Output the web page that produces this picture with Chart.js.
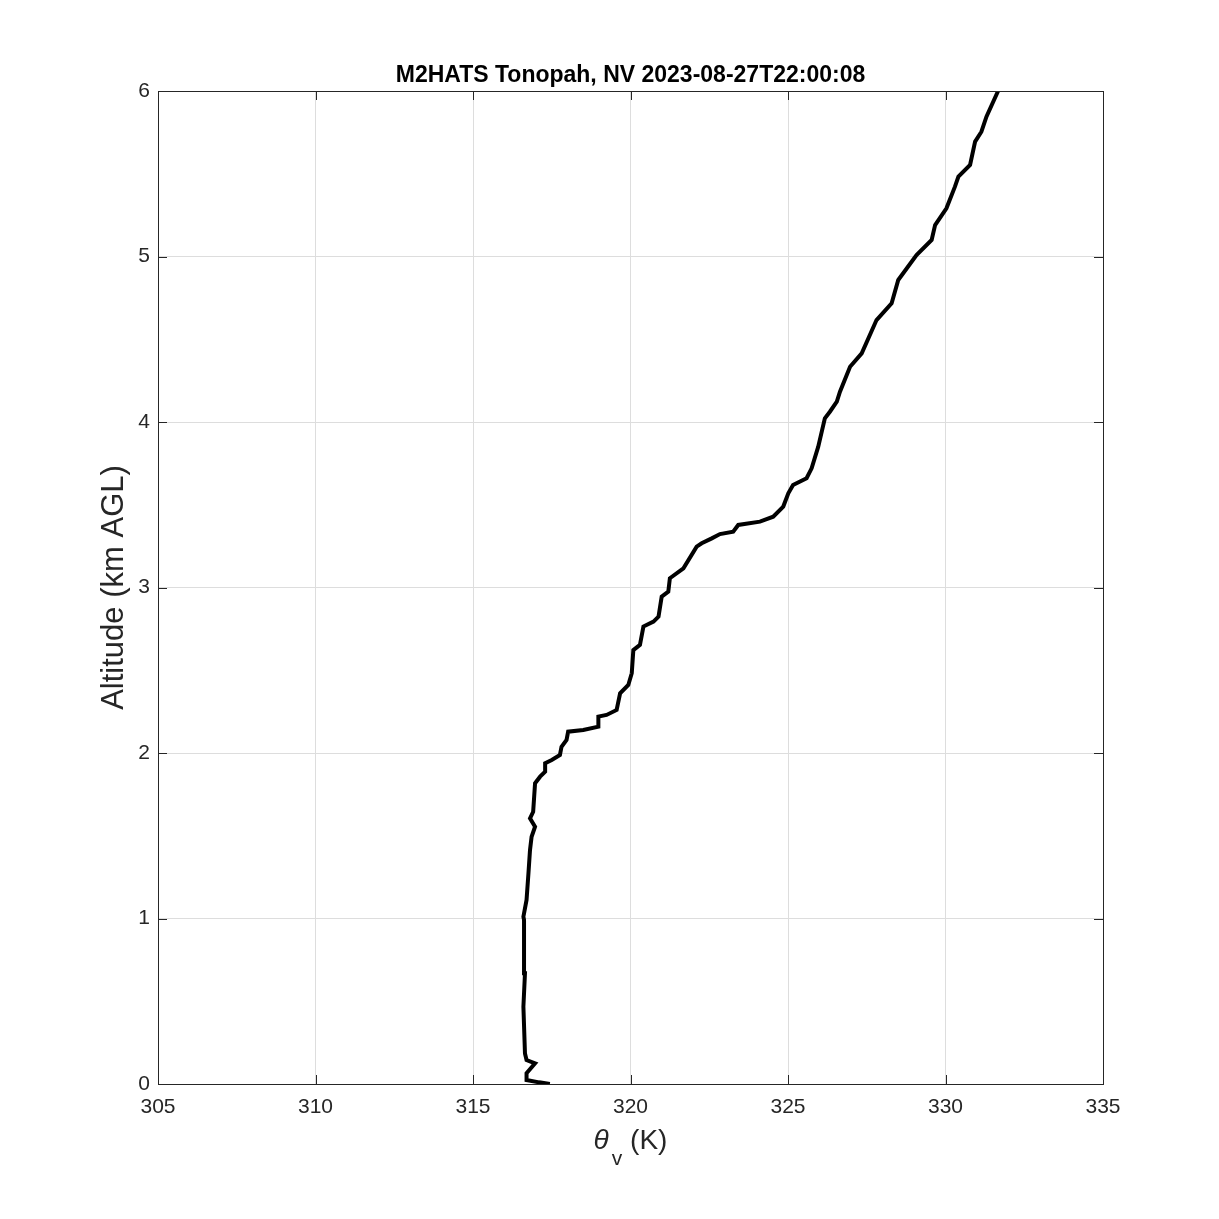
<!DOCTYPE html>
<html>
<head>
<meta charset="utf-8">
<script src="https://cdn.jsdelivr.net/npm/chart.js@4.4.1/dist/chart.umd.min.js"></script>
<style>
    body { margin: 0; background: #ffffff; }
    #wrap { width: 1219px; height: 1219px; position: relative; }
</style>
</head>
<body>
<div id="wrap"><canvas id="profileChart"></canvas></div>
<script>
// Sounding profile (bottom to top)
const thetaV = [
    317.44, 317.10, 316.70, 316.70, 316.97, 316.70, 316.65, 316.60, 316.65, 316.62,
    316.60, 316.70, 316.76, 316.81, 316.86, 316.97, 316.81, 316.91, 316.97, 317.13,
    317.29, 317.29, 317.50, 317.76, 317.81, 317.97, 318.02, 318.50, 318.98, 318.98,
    319.24, 319.56, 319.67, 319.93, 320.04, 320.09, 320.30, 320.41, 320.73, 320.89,
    320.99, 321.20, 321.25, 321.68, 322.10, 322.26, 322.58, 322.84, 323.26, 323.42,
    324.11, 324.53, 324.85, 325.01, 325.16, 325.59, 325.75, 325.96, 326.17, 326.33,
    326.55, 326.65, 326.97, 327.34, 327.81, 328.29, 328.50, 329.08, 329.56, 329.67,
    330.03, 330.30, 330.41, 330.78, 330.94, 331.14, 331.30, 331.67
];
const altitudeKm = [
    0.000, 0.010, 0.024, 0.065, 0.125, 0.145, 0.185, 0.467, 0.669, 0.991,
    1.011, 1.112, 1.273, 1.414, 1.494, 1.555, 1.605, 1.645, 1.817, 1.857,
    1.887, 1.938, 1.958, 1.988, 2.038, 2.079, 2.129, 2.139, 2.159, 2.220,
    2.230, 2.260, 2.361, 2.411, 2.482, 2.622, 2.653, 2.764, 2.794, 2.824,
    2.945, 2.975, 3.056, 3.116, 3.247, 3.267, 3.297, 3.323, 3.337, 3.378,
    3.398, 3.428, 3.489, 3.569, 3.619, 3.660, 3.720, 3.851, 4.022, 4.062,
    4.123, 4.183, 4.334, 4.415, 4.616, 4.717, 4.858, 5.009, 5.100, 5.190,
    5.291, 5.422, 5.483, 5.553, 5.694, 5.754, 5.845, 6.000
];

// Axis ticks
const xTicks = [305, 310, 315, 320, 325, 330, 335];
const yTicks = [0, 1, 2, 3, 4, 5, 6];

const chartTitle = 'M2HATS Tonopah, NV 2023-08-27T22:00:08';
const yTitle = 'Altitude (km AGL)';

const FONT = '"Liberation Sans", Arial, Helvetica, sans-serif';
const AXIS_COLOR = '#262626';

// MATLAB style box with inward ticks, centred title + subscripted x label
const matlabFrame = {
    id: 'matlabFrame',
    afterDraw(chart) {
        const { ctx, chartArea: a, scales } = chart;
        const cx = (a.left + a.right) / 2;
        ctx.save();
        ctx.strokeStyle = AXIS_COLOR;
        ctx.lineWidth = 1;
        ctx.strokeRect(a.left + 0.5, a.top + 0.5, a.right - a.left, a.bottom - a.top);

        const len = 9;
        ctx.beginPath();
        xTicks.forEach(v => {
            const px = Math.round(scales.x.getPixelForValue(v)) + 0.5;
            ctx.moveTo(px, a.bottom); ctx.lineTo(px, a.bottom - len);
            ctx.moveTo(px, a.top); ctx.lineTo(px, a.top + len);
        });
        yTicks.forEach(v => {
            const py = Math.round(scales.y.getPixelForValue(v)) + 0.5;
            ctx.moveTo(a.left, py); ctx.lineTo(a.left + len, py);
            ctx.moveTo(a.right, py); ctx.lineTo(a.right - len, py);
        });
        ctx.stroke();

        // title
        ctx.fillStyle = '#000000';
        ctx.font = 'bold 23px ' + FONT;
        ctx.textAlign = 'center';
        ctx.textBaseline = 'alphabetic';
        ctx.fillText(chartTitle, cx, 82);

        // x label: theta with subscript v, then (K)
        const mainFont = '28px ' + FONT;
        const thetaFont = 'italic 28px ' + FONT;
        const subFont = '21px ' + FONT;
        ctx.fillStyle = AXIS_COLOR;
        ctx.textAlign = 'left';
        ctx.font = thetaFont;
        const wTheta = ctx.measureText('θ').width;
        ctx.font = subFont;
        const wSub = ctx.measureText('v').width;
        ctx.font = mainFont;
        const wRest = ctx.measureText(' (K)').width;
        const total = wTheta + 3 + wSub + wRest;
        let x = cx - total / 2;
        const base = 1149;
        ctx.font = thetaFont;
        ctx.fillText('θ', x, base);
        x += wTheta + 3;
        ctx.font = subFont;
        ctx.fillText('v', x, base + 16);
        x += wSub;
        ctx.font = mainFont;
        ctx.fillText(' (K)', x, base);
        ctx.restore();
    }
};

const points = thetaV.map((t, i) => ({ x: t, y: altitudeKm[i] }));

new Chart(document.getElementById('profileChart'), {
    type: 'scatter',
    data: {
        datasets: [{
            data: points,
            showLine: true,
            borderColor: '#000000',
            backgroundColor: '#000000',
            borderWidth: 4,
            pointRadius: 0,
            tension: 0
        }]
    },
    options: {
        responsive: true,
        maintainAspectRatio: false,
        animation: false,
        layout: { padding: { left: 0, top: 91, right: 116, bottom: 0 } },
        plugins: {
            legend: { display: false },
            tooltip: { enabled: false },
            title: { display: false }
        },
        scales: {
            x: {
                type: 'linear',
                min: 305,
                max: 335,
                afterBuildTicks: s => { s.ticks = xTicks.map(v => ({ value: v })); },
                afterFit: s => { s.height = 135; },
                grid: { color: '#dddddd', drawTicks: false, tickLength: 0 },
                border: { display: false },
                ticks: {
                    color: AXIS_COLOR,
                    padding: 11,
                    maxRotation: 0,
                    font: { family: FONT, size: 21 }
                }
            },
            y: {
                type: 'linear',
                min: 0,
                max: 6,
                afterBuildTicks: s => { s.ticks = yTicks.map(v => ({ value: v })); },
                afterFit: s => { s.width = 158; },
                grid: { color: '#dddddd', drawTicks: false, tickLength: 0 },
                border: { display: false },
                title: {
                    display: true,
                    text: yTitle,
                    color: AXIS_COLOR,
                    font: { family: FONT, size: 31 },
                    padding: { top: 96, bottom: 0 }
                },
                ticks: {
                    color: AXIS_COLOR,
                    padding: 8,
                    font: { family: FONT, size: 21 }
                }
            }
        }
    },
    plugins: [matlabFrame]
});
</script>
</body>
</html>
